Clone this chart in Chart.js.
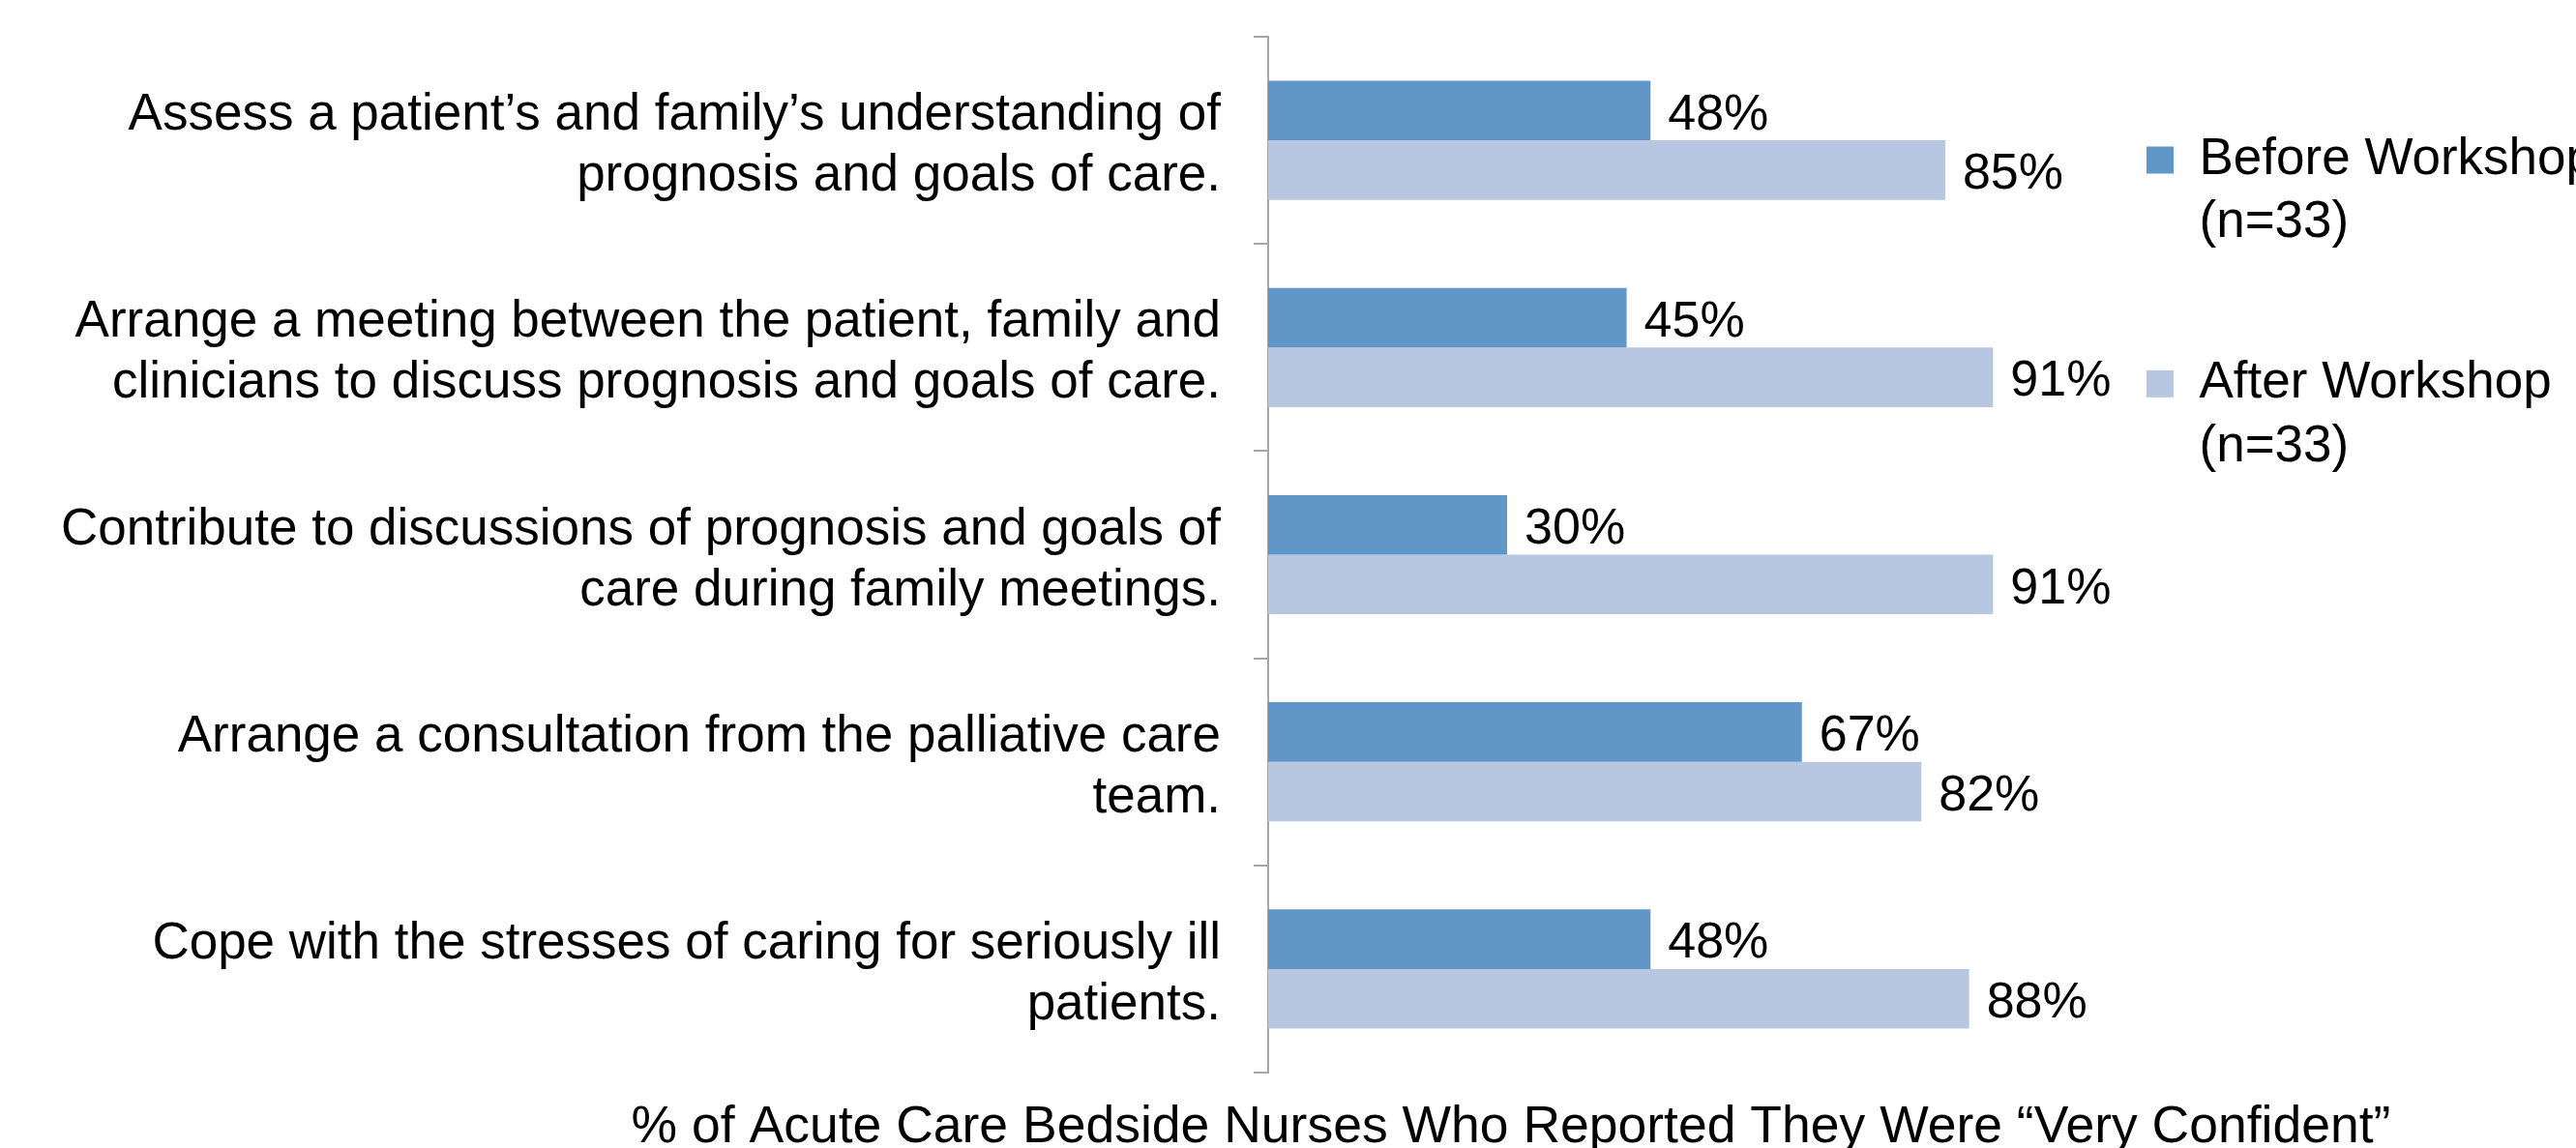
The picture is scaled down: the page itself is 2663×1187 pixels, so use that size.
<!DOCTYPE html>
<html>
<head>
<meta charset="utf-8">
<script src="https://cdn.jsdelivr.net/npm/chart.js@4.4.1/dist/chart.umd.min.js"></script>
<style>
  html, body { margin: 0; padding: 0; background: #fff; overflow: hidden; }
  #wrap { width: 2663px; height: 1187px; position: relative; }
</style>
</head>
<body>
<div id="wrap"><canvas id="confidence-chart"></canvas></div>
<script>
const categories = [
    ['Assess a patient’s and family’s understanding of', 'prognosis and goals of care.'],
    ['Arrange a meeting between the patient, family and', 'clinicians to discuss prognosis and goals of care.'],
    ['Contribute to discussions of prognosis and goals of', 'care during family meetings.'],
    ['Arrange a consultation from the palliative care', 'team.'],
    ['Cope with the stresses of caring for seriously ill', 'patients.']
];
const beforeWorkshop = [48, 45, 30, 67, 48];
const afterWorkshop = [85, 91, 91, 82, 88];
const seriesLabels = [['Before Workshop', '(n=33)'], ['After Workshop', '(n=33)']];
const axisTitle = '% of Acute Care Bedside Nurses Who Reported They Were “Very Confident”';

const FONT = 'Arial, "Liberation Sans", Helvetica, sans-serif';
const LABEL_COLUMN = 1311; // width kept for the long question texts

// percent labels next to every bar
const valueLabels = {
    id: 'valueLabels',
    afterDatasetsDraw(chart) {
        const ctx = chart.ctx;
        ctx.save();
        ctx.font = '52px ' + FONT;
        ctx.fillStyle = '#000';
        ctx.textAlign = 'left';
        ctx.textBaseline = 'middle';
        chart.data.datasets.forEach((ds, i) => {
            chart.getDatasetMeta(i).data.forEach((bar, j) => {
                ctx.fillText(ds.data[j] + '%', bar.x + 18, bar.y + 5);
            });
        });
        ctx.restore();
    }
};

// x axis title, sits off-centre under the plot like the original
const bottomTitle = {
    id: 'bottomTitle',
    afterDraw(chart) {
        const ctx = chart.ctx;
        ctx.save();
        ctx.font = '53.5px ' + FONT;
        ctx.fillStyle = '#000';
        ctx.textAlign = 'center';
        ctx.textBaseline = 'alphabetic';
        ctx.fillText(axisTitle, 1562, 1181);
        ctx.restore();
    }
};

new Chart(document.getElementById('confidence-chart'), {
    type: 'bar',
    data: {
        labels: categories,
        datasets: [{
            label: seriesLabels[0],
            data: beforeWorkshop,
            backgroundColor: '#6196C9',
            borderWidth: 0
        }, {
            label: seriesLabels[1],
            data: afterWorkshop,
            backgroundColor: '#B8C7E1',
            borderWidth: 0
        }]
    },
    options: {
        indexAxis: 'y',
        responsive: true,
        maintainAspectRatio: false,
        animation: false,
        datasets: {
            bar: { barPercentage: 1, categoryPercentage: 0.575 }
        },
        layout: {
            padding: { top: 38, bottom: 78, left: 0, right: 0 }
        },
        scales: {
            x: {
                display: false,
                min: 0,
                max: 98
            },
            y: {
                afterFit(scale) {
                    scale.width = LABEL_COLUMN;
                    scale.paddingTop = 0;
                    scale.paddingBottom = 0;
                },
                grid: {
                    offset: true,
                    drawOnChartArea: false,
                    drawTicks: true,
                    tickLength: 15,
                    color: '#A6A6A6',
                    lineWidth: 2
                },
                border: { display: true, color: '#A6A6A6', width: 2 },
                ticks: {
                    color: '#000',
                    padding: 34,
                    labelOffset: 6,
                    font: { family: FONT, size: 53, lineHeight: 1.19 }
                }
            }
        },
        plugins: {
            legend: {
                position: 'right',
                align: 'start',
                maxWidth: 545,
                labels: {
                    color: '#000',
                    boxWidth: 28,
                    boxHeight: 28,
                    padding: 101,
                    font: { family: FONT, size: 53, lineHeight: 1.23 }
                }
            },
            tooltip: { enabled: false }
        }
    },
    plugins: [valueLabels, bottomTitle]
});
</script>
</body>
</html>
